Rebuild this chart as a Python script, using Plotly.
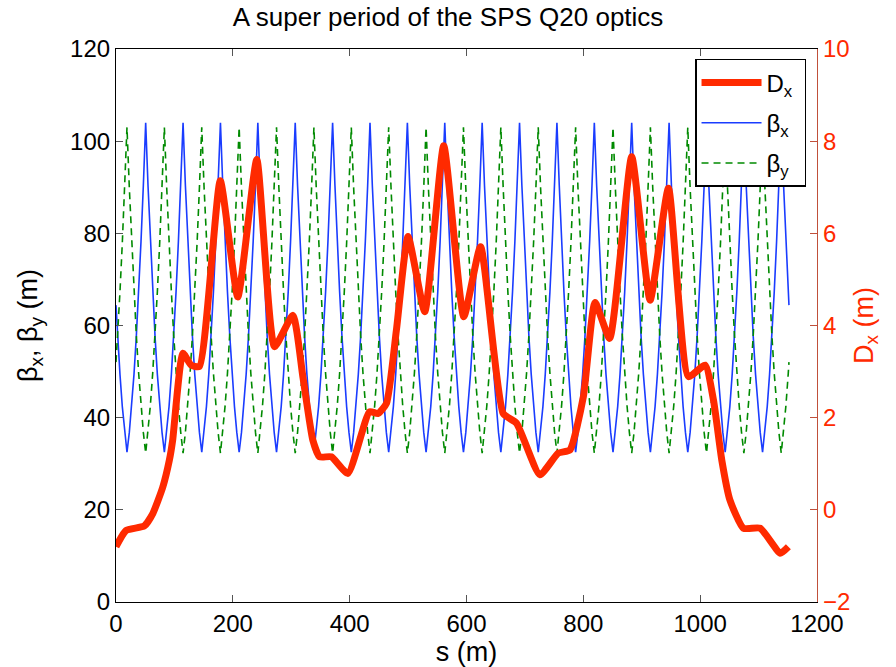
import numpy as np
import plotly.graph_objects as go

# ---------------- data ----------------
# FODO cell: 64 m; beta values every 4 m from the focusing quad (QF) for beta_x
# and from the defocusing quad (QD) for beta_y
cell_length = 64.0
first_qf = -13.2
half_offsets = [0, 4, 8, 12, 16, 20, 24, 28, 32]
betax_from_qf = [104.0, 90.4, 78.2, 67.3, 57.7, 49.4, 42.4, 36.8, 32.5]
betay_from_qd = [103.0, 89.9, 77.9, 67.3, 57.8, 49.6, 42.6, 36.8, 32.3]
n_cells = 19
s_end = 1152.0

# horizontal dispersion D_x along the super period
dx_s = [0, 17, 48.5, 63, 80, 91.4, 97, 114.5, 128.6, 142.8, 178.5, 208.5, 241,
        271.4, 302.8, 320, 337, 348.5, 368.6, 397, 434, 448.5, 463, 480, 500,
        528.5, 561, 595.4, 624, 662.8, 685.7, 725.7, 757, 777, 800, 820, 845,
        882.8, 914.3, 945.7, 980, 1008.5, 1022.8, 1037, 1051, 1074, 1102.8,
        1137, 1151]
dx_val = [-0.80, -0.45, -0.35, -0.08, 0.49, 1.08, 1.51, 3.40, 3.14, 3.11, 7.14,
          4.62, 7.60, 3.54, 4.22, 2.88, 1.51, 1.15, 1.15, 0.79, 2.13, 2.09, 2.31,
          3.90, 5.93, 4.30, 7.90, 4.19, 5.71, 2.09, 1.88, 0.76, 1.23, 1.30, 2.45,
          4.50, 3.72, 7.66, 4.55, 6.98, 2.89, 3.14, 2.38, 1.08, 0.21, -0.40,
          -0.40, -0.94, -0.80]

x_ticks = [0, 200, 400, 600, 800, 1000, 1200]
y_ticks = [0, 20, 40, 60, 80, 100, 120]
y2_ticks = [-2, 0, 2, 4, 6, 8, 10]

# ---------------- build the periodic beta functions ----------------
full_off = half_offsets + [2 * half_offsets[-1] - o for o in reversed(half_offsets[:-1])]
bx_cell = betax_from_qf + list(reversed(betax_from_qf[:-1]))
by_cell = list(reversed(betay_from_qd)) + betay_from_qd[1:]

knots_s, knots_bx, knots_by = [], [], []
for k in range(n_cells):
    qf = first_qf + k * cell_length
    start = 0 if k == 0 else 1
    for o, bx, by in zip(full_off[start:], bx_cell[start:], by_cell[start:]):
        knots_s.append(qf + o)
        knots_bx.append(bx)
        knots_by.append(by)
knots_s = np.array(knots_s)
inside = knots_s[(knots_s > 0) & (knots_s < s_end)]
s_grid = np.concatenate([[0.0], inside, [s_end]])
betax = np.interp(s_grid, knots_s, knots_bx)
betay = np.interp(s_grid, knots_s, knots_by)

RED = "#ff2a00"
BLUE = "#1a3cff"
GREEN = "#008a00"
FONT = "Liberation Sans, Arial, Helvetica, sans-serif"

fig = go.Figure()
fig.add_trace(go.Scatter(x=s_grid, y=betax, mode="lines", name="β<sub>x</sub>&nbsp;",
                         line=dict(color=BLUE, width=1.6), legendrank=2,
                         legendgroup="bx", yaxis="y"))
fig.add_trace(go.Scatter(x=s_grid, y=betay, mode="lines", name="β<sub>y</sub>&nbsp;",
                         line=dict(color=GREEN, width=1.6, dash="7px,5px"),
                         legendrank=3, legendgroup="by", yaxis="y"))
fig.add_trace(go.Scatter(x=dx_s, y=dx_val, mode="lines", name="D<sub>x</sub>&nbsp;",
                         line=dict(color=RED, width=7, shape="spline", smoothing=0.5),
                         legendrank=1, legendgroup="dx", yaxis="y2"))

fig.update_layout(
    width=896, height=667,
    margin=dict(l=116, r=79, t=49, b=65, autoexpand=False),
    paper_bgcolor="white", plot_bgcolor="white",
    font=dict(family=FONT, size=24, color="black"),
    title=dict(text="A super period of the SPS Q20 optics", x=0.5, xanchor="center",
               y=0.974, yanchor="middle", font=dict(size=26, color="black")),
    showlegend=True,
    legend=dict(x=0.826, y=0.982, xanchor="left", yanchor="top", bgcolor="white",
                bordercolor="black", borderwidth=1.5, font=dict(size=24),
                itemwidth=60, traceorder="grouped", tracegroupgap=6),
    xaxis=dict(range=[0, 1200], tickvals=x_ticks, ticks="inside", ticklen=7,
               tickcolor="#555", showline=True, linecolor="black", linewidth=1.2,
               mirror="ticks", showgrid=False, zeroline=False, automargin=False,
               tickfont=dict(size=24),
               title=dict(text="s (m)", font=dict(size=27), standoff=2)),
    yaxis=dict(range=[0, 120], tickvals=y_ticks, ticks="inside", ticklen=7,
               tickcolor="#555", showline=True, linecolor="black", linewidth=1.2,
               showgrid=False, zeroline=False, tickfont=dict(size=24), automargin=False,
               title=dict(text="β<sub>x</sub>, β<sub>y</sub> (m)",
                          font=dict(size=27), standoff=24)),
    yaxis2=dict(range=[-2, 10], tickvals=y2_ticks, overlaying="y", side="right",
                ticks="inside", ticklen=7, tickcolor="#c0503a", showline=True,
                linecolor="#c0503a", linewidth=1.2, showgrid=False, zeroline=False,
                tickfont=dict(size=24, color=RED), automargin=False,
                title=dict(text="D<sub>x</sub> (m)", font=dict(size=27, color=RED),
                           standoff=4)),
)

fig.write_html("out.html")
